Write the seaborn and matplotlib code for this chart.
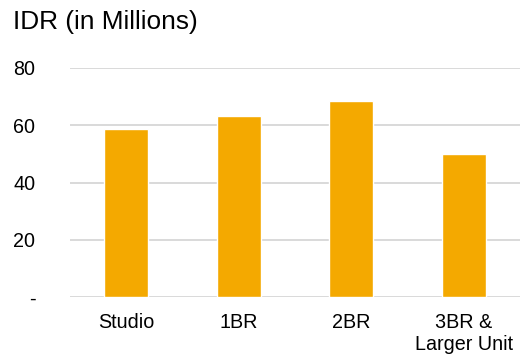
import pandas as pd
import seaborn as sns
import matplotlib.pyplot as plt

categories = ["Studio", "1BR", "2BR", "3BR &\nLarger Unit"]
values = [58.7, 63.2, 68.5, 49.9]
y_ticks = [0, 20, 40, 60, 80]
y_tick_labels = ["-", "20", "40", "60", "80"]

df = pd.DataFrame({"unit": categories, "price": values})

sns.set_style("white")
plt.rcParams["font.family"] = ["Liberation Sans", "DejaVu Sans"]
plt.rcParams["text.color"] = "black"

fig = plt.figure(figsize=(5.23, 3.59), dpi=100)
ax = fig.add_axes([70 / 523, 1 - 297.3 / 359, 450 / 523, (297.3 - 68) / 359])

sns.barplot(data=df, x="unit", y="price", color="#F4A900", width=0.39,
            saturation=1, ax=ax)

ax.set_ylim(0, 80)
ax.set_xlim(-0.5, len(categories) - 0.5)
ax.set_yticks(y_ticks)
ax.set_yticklabels(y_tick_labels)
ax.yaxis.grid(True, color="#d9d9d9", linewidth=1.4)
ax.set_axisbelow(True)
for s in ax.spines.values():
    s.set_visible(False)
ax.tick_params(axis="y", length=0, pad=25, labelsize=14.2, colors="black")
ax.tick_params(axis="x", length=0, pad=11, labelsize=14.2, colors="black")
ax.set_xlabel("")
ax.set_ylabel("")

fig.text(13 / 523, 1 - 22 / 359, "IDR (in Millions)", fontsize=18.9,
         va="center", ha="left", color="black")

fig.savefig("out.png", dpi=100)
plt.close()
